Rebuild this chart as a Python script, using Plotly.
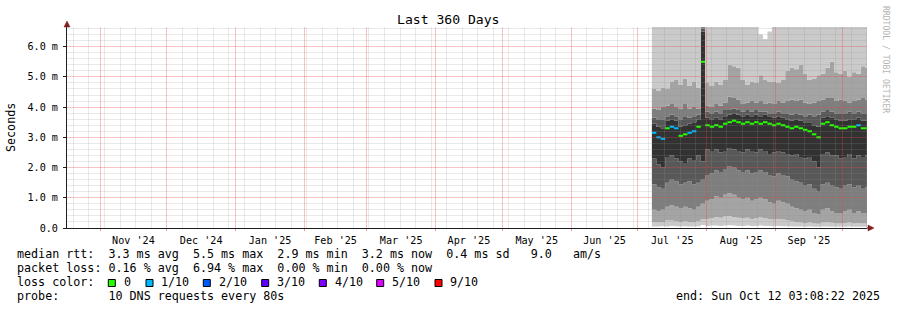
import math
import plotly.graph_objects as go
import pandas as pd

# ---------------- data ----------------
END = pd.Timestamp('2025-10-12 03:08:22')
START = END - pd.Timedelta(days=360)
FIRST_SAMPLE = pd.Timestamp('2025-07-07 08:00')
N = 49
times = list(pd.date_range(FIRST_SAMPLE, periods=N, freq='2D'))

median = [3.15, 3.0, 2.95, 3.3, 3.35, 3.3, 3.05, 3.1, 3.15, 3.2, 3.35, 5.5,
          3.4, 3.35, 3.4, 3.35, 3.45, 3.5, 3.55, 3.5, 3.45, 3.5, 3.45, 3.5,
          3.45, 3.5, 3.45, 3.4, 3.45, 3.4, 3.35, 3.3, 3.35, 3.3, 3.25, 3.2,
          3.1, 3.0, 3.45, 3.5, 3.4, 3.35, 3.3, 3.3, 3.35, 3.35, 3.4, 3.3, 3.3]
loss = [1, 1, 1, 0, 1, 1, 0, 0, 1, 1, 0, 0,
        0, 0, 0, 0, 0, 0, 0, 0, 0, 0, 0, 0,
        0, 0, 0, 0, 0, 0, 0, 0, 0, 0, 0, 0,
        0, 0, 0, 0, 0, 0, 0, 0, 0, 0, 1, 0, 0]

cp10 = [7.0, 7.0, 7.0, 7.0, 7.0, 7.0, 7.0, 7.0, 7.0, 7.0, 7.0, 7.0,
        7.0, 7.0, 7.0, 7.0, 7.0, 7.0, 7.0, 7.0, 7.0, 7.0, 7.0, 7.0,
        6.4, 6.25, 6.5, 7.0, 7.0, 7.0, 7.0, 7.0, 7.0, 7.0, 7.0, 7.0,
        7.0, 7.0, 7.0, 7.0, 7.0, 7.0, 7.0, 7.0, 7.0, 7.0, 7.0, 7.0, 7.0]
cp9 = [4.6, 4.55, 4.65, 4.6, 4.85, 4.9, 4.75, 4.95, 4.7, 4.85, 4.65, 6.8,
       4.8, 4.7, 4.85, 4.75, 4.9, 5.4, 5.35, 5.3, 4.9, 4.75, 4.85, 4.8,
       5.05, 4.9, 4.85, 4.85, 4.8, 4.9, 5.2, 5.3, 5.25, 5.4, 5.1, 4.9,
       4.95, 5.05, 5.1, 5.3, 5.5, 5.15, 5.1, 5.2, 5.0, 5.15, 5.1, 5.35, 5.3]
cp8 = [3.95, 3.9, 4.0, 4.05, 4.1, 4.0, 3.95, 4.1, 3.95, 4.0, 3.95, 6.7,
       4.05, 4.0, 4.1, 4.05, 4.15, 4.35, 4.3, 4.25, 4.1, 4.15, 4.2, 4.15,
       4.2, 4.1, 4.15, 4.1, 4.2, 4.15, 4.2, 4.25, 4.2, 4.25, 4.15, 4.1,
       4.15, 4.2, 4.25, 4.3, 4.3, 4.2, 4.25, 4.2, 4.15, 4.2, 4.25, 4.3, 4.25]
cp7 = [3.65, 3.6, 3.6, 3.7, 3.75, 3.7, 3.6, 3.7, 3.65, 3.7, 3.75, 6.6,
       3.85, 3.8, 3.85, 3.8, 3.9, 3.9, 3.95, 3.9, 3.85, 3.9, 3.85, 3.9,
       3.85, 3.85, 3.8, 3.8, 3.85, 3.8, 3.8, 3.75, 3.8, 3.75, 3.7, 3.75,
       3.7, 3.75, 3.85, 3.9, 3.85, 3.8, 3.8, 3.8, 3.85, 3.8, 3.85, 3.8, 3.8]
cp6 = [3.45, 3.35, 3.3, 3.55, 3.6, 3.55, 3.35, 3.4, 3.45, 3.5, 3.6, 6.5,
       3.65, 3.6, 3.65, 3.6, 3.7, 3.75, 3.8, 3.75, 3.7, 3.75, 3.7, 3.75,
       3.7, 3.75, 3.7, 3.65, 3.7, 3.65, 3.6, 3.55, 3.6, 3.55, 3.5, 3.5,
       3.4, 3.35, 3.65, 3.7, 3.65, 3.6, 3.55, 3.55, 3.6, 3.6, 3.65, 3.55, 3.55]
cp5 = [2.3, 2.1, 2.0, 2.35, 2.4, 2.3, 2.2, 2.15, 2.3, 2.25, 2.4, 2.2,
       2.6, 2.55, 2.6, 2.5, 2.55, 2.65, 2.6, 2.55, 2.5, 2.6, 2.55, 2.5,
       2.6, 2.55, 2.45, 2.5, 2.55, 2.5, 2.45, 2.4, 2.45, 2.35, 2.3, 2.35,
       2.2, 2.0, 2.45, 2.5, 2.4, 2.4, 2.3, 2.35, 2.45, 2.3, 2.4, 2.35, 2.4]
cp4 = [1.45, 1.35, 1.3, 1.5, 1.6, 1.55, 1.45, 1.5, 1.55, 1.45, 1.5, 1.6,
       1.75, 1.8, 1.9, 1.85, 1.95, 2.05, 2.0, 1.9, 1.85, 1.9, 1.8, 1.85,
       1.9, 1.85, 1.75, 1.7, 1.8, 1.75, 1.7, 1.6, 1.55, 1.5, 1.4, 1.45,
       1.3, 1.2, 1.45, 1.5, 1.4, 1.35, 1.3, 1.4, 1.45, 1.35, 1.4, 1.3, 1.35]
cp3 = [0.6, 0.55, 0.6, 0.7, 0.75, 0.7, 0.65, 0.7, 0.65, 0.6, 0.7, 0.8,
       0.9, 0.95, 1.05, 1.0, 1.1, 1.15, 1.1, 1.0, 0.95, 1.0, 0.9, 0.95,
       1.0, 0.95, 0.85, 0.8, 0.9, 0.85, 0.8, 0.7, 0.65, 0.6, 0.55, 0.6,
       0.5, 0.45, 0.6, 0.65, 0.55, 0.5, 0.5, 0.55, 0.6, 0.5, 0.55, 0.5, 0.5]
cp2 = [0.2, 0.18, 0.2, 0.25, 0.25, 0.22, 0.2, 0.22, 0.2, 0.18, 0.22, 0.3,
       0.3, 0.32, 0.36, 0.34, 0.38, 0.4, 0.36, 0.34, 0.32, 0.34, 0.3, 0.32,
       0.35, 0.32, 0.3, 0.28, 0.3, 0.28, 0.26, 0.22, 0.2, 0.18, 0.16, 0.18,
       0.15, 0.14, 0.18, 0.2, 0.17, 0.15, 0.15, 0.16, 0.18, 0.15, 0.16, 0.15, 0.15]
cp1 = [0.05, 0.05, 0.06, 0.05, 0.07, 0.06, 0.05, 0.06, 0.05, 0.05, 0.06, 0.1,
       0.07, 0.08, 0.08, 0.07, 0.08, 0.09, 0.08, 0.07, 0.07, 0.08, 0.07, 0.07,
       0.08, 0.07, 0.07, 0.06, 0.07, 0.06, 0.06, 0.05, 0.05, 0.05, 0.04, 0.05,
       0.04, 0.04, 0.05, 0.05, 0.04, 0.04, 0.04, 0.04, 0.05, 0.04, 0.04, 0.04, 0.04]

smoke_series = [cp1, cp2, cp3, cp4, cp5, cp6, cp7, cp8, cp9, cp10]
smoke_colors = [None, '#cacaca', '#a4a4a4', '#7e7e7e', '#585858', '#323232',
                '#585858', '#7e7e7e', '#a4a4a4', '#cacaca']

loss_labels = ['0', '1/10', '2/10', '3/10', '4/10', '5/10', '9/10']
loss_colors = ['#26ff00', '#00b8ff', '#0059ff', '#5e00ff', '#7e00ff', '#dd00ff', '#ff0000']

y_ticks = [0, 1, 2, 3, 4, 5, 6]
y_ticktext = ['0.0', '1.0 m', '2.0 m', '3.0 m', '4.0 m', '5.0 m', '6.0 m']
Y_MAX = 6.65

stats_line1 = "median rtt:  3.3 ms avg  5.5 ms max  2.9 ms min  3.2 ms now  0.4 ms sd   9.0   am/s"
stats_line2 = "packet loss: 0.16 % avg  6.94 % max  0.00 % min  0.00 % now"
probe_line = "probe:       10 DNS requests every 80s"
end_line = "end: Sun Oct 12 03:08:22 2025"
title = "Last 360 Days"

# ---------------- layout geometry ----------------
W, H = 897, 310
L, R, T, B = 67, 30, 27, 82
PW, PH = W - L - R, H - T - B
MONO = "DejaVu Sans Mono"


def px(x):
    return (x - L) / PW


def py(y):
    return (T + PH - y) / PH


def snap_x(t):
    frac = (t - START) / (END - START)
    p = math.floor(L + frac * PW) + 0.5
    return (p - L) / PW


def snap_y(v):
    p = math.floor(T + PH * (1 - v / Y_MAX)) + 0.5
    return (T + PH - p) / PH


fig = go.Figure()

xs = times + [END]
for s, c in zip(smoke_series, smoke_colors):
    ys = s + [s[-1]]
    fig.add_trace(go.Scatter(
        x=xs, y=ys, mode='lines', line=dict(width=0, shape='hv'),
        fill=None if c is None else 'tonexty',
        fillcolor=c, hoverinfo='skip', showlegend=False))

# median: one horizontal piece per sample, coloured by loss class
for lv in sorted(set(loss)):
    sx, sy = [], []
    for k in range(N):
        if loss[k] == lv:
            sx += [xs[k], xs[k + 1], None]
            sy += [median[k], median[k], None]
    fig.add_trace(go.Scatter(x=sx, y=sy, mode='lines',
                             line=dict(width=2, color=loss_colors[lv]),
                             hoverinfo='skip', showlegend=False))

# ---------------- grid (drawn above data, like rrdtool) ----------------
shapes = []
GRID = 'rgba(143,143,143,0.2)'
MGRID = 'rgba(230,70,70,0.32)'
v = 0.2
while v < Y_MAX:
    major = abs(v - round(v)) < 1e-6
    yy = snap_y(v)
    shapes.append(dict(type='line', xref='paper', yref='paper', x0=0, x1=1, y0=yy, y1=yy,
                       line=dict(color=MGRID if major else GRID, width=1),
                       layer='above'))
    v = round(v + 0.2, 6)
wk = pd.Timestamp('2024-10-20 00:00')
while wk < END:
    if wk > START and not (wk.day == 1 and wk.hour == 0):
        xx = snap_x(wk)
        shapes.append(dict(type='line', xref='paper', yref='paper', x0=xx, x1=xx, y0=0, y1=1,
                           line=dict(color=GRID, width=1), layer='above'))
    wk += pd.Timedelta(days=7)
for m in pd.date_range('2024-11-01', '2025-10-01', freq='MS'):
    xx = snap_x(m)
    shapes.append(dict(type='line', xref='paper', yref='paper', x0=xx, x1=xx, y0=0, y1=1,
                       line=dict(color=MGRID, width=1), layer='above'))

AXC = '#1f1f1f'
ARC = '#801f1f'
shapes.append(dict(type='line', xref='paper', yref='paper', x0=1, x1=px(870), y0=0, y1=0,
                   line=dict(color=AXC, width=1), layer='above'))
shapes.append(dict(type='path', xref='paper', yref='paper', xsizemode='pixel', ysizemode='pixel',
                   xanchor=0, yanchor=1, path='M -3,0 L 3,0 L 0,6 Z',
                   fillcolor=ARC, line=dict(color=ARC, width=0.5), layer='above'))
shapes.append(dict(type='path', xref='paper', yref='paper', xsizemode='pixel', ysizemode='pixel',
                   xanchor=1, yanchor=0, path='M 1,-3 L 1,3 L 7,0 Z',
                   fillcolor=ARC, line=dict(color=ARC, width=0.5), layer='above'))

box_x = [108.3, 146, 203.3, 261.7, 319.3, 376.7, 435]
lab_x = [123.3, 160.7, 218.3, 276.7, 334.3, 391.7, 449]
annotations = []
for bx, lx, lab, col in zip(box_x, lab_x, loss_labels, loss_colors):
    shapes.append(dict(type='rect', xref='paper', yref='paper',
                       x0=px(bx), x1=px(bx + 7), y0=py(286.5), y1=py(279.5),
                       fillcolor=col, line=dict(color='#000000', width=1), layer='above'))
    annotations.append(dict(x=px(lx - 1.5), y=py(282.3), xref='paper', yref='paper',
                            text=lab, showarrow=False, xanchor='left', yanchor='middle',
                            font=dict(family=MONO, size=11.7, color='#000000')))


def nb(s):
    return s.replace(' ', '\u00a0')


def text_ann(x, y, s, size=11.7, anchor='left', color='#000000', angle=0):
    annotations.append(dict(x=px(x), y=py(y), xref='paper', yref='paper', text=nb(s),
                            showarrow=False, xanchor=anchor, yanchor='middle', textangle=angle,
                            font=dict(family=MONO, size=size, color=color)))


text_ann(14.5, 254.3, stats_line1)
text_ann(14.5, 268.3, stats_line2)
text_ann(14.5, 282.3, "loss color:")
text_ann(14.5, 296.0, probe_line)
text_ann(881.5, 296.0, end_line, anchor='right')
text_ann(448, 19.5, title, size=13.1, anchor='center')
text_ann(11, 127, "Seconds", size=11.7, anchor='center', angle=-90)
text_ann(886, 59, "RRDTOOL / TOBI OETIKER", size=8.1, anchor='center', color='#b4b4b4', angle=90)

fig.update_layout(
    width=W, height=H, autosize=False,
    margin=dict(l=L, r=R, t=T, b=B, pad=0),
    paper_bgcolor='#ffffff', plot_bgcolor='#ffffff',
    showlegend=False, shapes=shapes, annotations=annotations,
    font=dict(family=MONO, size=10.15, color='#000000'),
)
fig.update_xaxes(
    type='date', range=[START, END], showgrid=False, zeroline=False,
    showline=True, linecolor=AXC, linewidth=1,
    dtick='M1', tick0='2024-11-01', tickformat="%b '%y", ticklabelmode='period',
    ticks='outside', ticklen=2, tickcolor='rgba(222,80,80,0.6)',
    tickfont=dict(family=MONO, size=10.15), ticklabelstandoff=1,
)
fig.update_yaxes(
    range=[0, Y_MAX], showgrid=False, zeroline=False,
    showline=True, linecolor=AXC, linewidth=1,
    tickvals=y_ticks, ticktext=y_ticktext, ticks='outside', ticklen=3, tickcolor=AXC,
    tickfont=dict(family=MONO, size=10.15), ticklabelstandoff=3,
)

fig.write_html("out.html", config={'displayModeBar': False})
